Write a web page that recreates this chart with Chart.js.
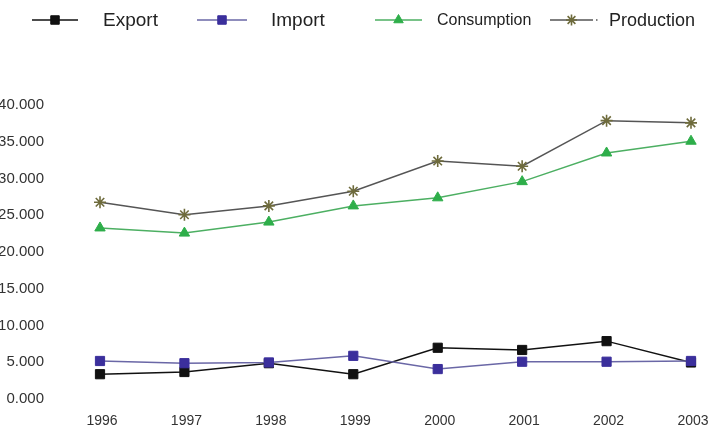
<!DOCTYPE html>
<html>
<head>
<meta charset="utf-8">
<script src="https://cdn.jsdelivr.net/npm/chart.js@4.4.1/dist/chart.umd.min.js"></script>
<style>
  html, body { margin: 0; padding: 0; background: #ffffff; overflow: hidden; }
  #c { position: absolute; left: -2px; top: 0; }
</style>
</head>
<body>
<canvas id="c" width="711" height="428" style="width:711px;height:428px"></canvas>
<script>
const years = ['1996', '1997', '1998', '1999', '2000', '2001', '2002', '2003'];
const exportVals = [3100, 3400, 4600, 3100, 6700, 6400, 7600, 4700];
const importVals = [4900, 4600, 4700, 5600, 3800, 4800, 4800, 4900];
const consumptionVals = [23000, 22300, 23800, 26000, 27100, 29300, 33200, 34800];
const productionVals = [26500, 24800, 26000, 28000, 32100, 31400, 37600, 37300];
const yTicks = [0, 5000, 10000, 15000, 20000, 25000, 30000, 35000, 40000];

const FONT = '"Liberation Sans", Arial, sans-serif';

const legendPlugin = {
  id: 'lineLegend',
  afterDraw(chart, args, opts) {
    const ctx = chart.ctx;
    const y = opts.y;
    ctx.save();
    opts.items.forEach(it => {
      const ds = chart.data.datasets[it.dataset];
      ctx.strokeStyle = ds.borderColor;
      ctx.lineWidth = 1.5;
      ctx.beginPath();
      ctx.moveTo(it.x0, y);
      ctx.lineTo(it.x1, y);
      ctx.stroke();
      if (it.dot) {
        ctx.fillStyle = ds.borderColor;
        ctx.fillRect(it.x1 + 3, y - 0.75, 1.5, 1.5);
      }
      ctx.fillStyle = ds.pointBackgroundColor;
      ctx.strokeStyle = ds.pointBorderColor;
      ctx.lineWidth = ds.pointBorderWidth || 1;
      Chart.helpers.drawPoint(ctx, {
        pointStyle: ds.pointStyle, rotation: 0, radius: it.r,
        borderWidth: ds.pointBorderWidth || 1
      }, (it.x0 + it.x1) / 2, y);
      ctx.fillStyle = '#222';
      ctx.font = it.size + 'px ' + FONT;
      ctx.textBaseline = 'middle';
      ctx.textAlign = 'left';
      ctx.fillText(ds.label, it.tx, y + 1);
    });
    ctx.restore();
  }
};

Chart.register(legendPlugin);

new Chart(document.getElementById('c'), {
  type: 'line',
  data: {
    labels: years,
    datasets: [
      { label: 'Export', data: exportVals, order: 1, borderColor: '#111111', borderWidth: 1.5,
        pointStyle: 'rect', pointRadius: 6.5, pointHoverRadius: 6.5,
        pointBackgroundColor: '#111111', pointBorderColor: '#111111', pointBorderWidth: 1, clip: false },
      { label: 'Import', data: importVals, order: 0, borderColor: '#6a67a6', borderWidth: 1.5,
        pointStyle: 'rect', pointRadius: 6.5, pointHoverRadius: 6.5,
        pointBackgroundColor: '#3b2f9c', pointBorderColor: '#3b2f9c', pointBorderWidth: 1, clip: false },
      { label: 'Consumption', data: consumptionVals, order: 2, borderColor: '#4caf62', borderWidth: 1.5,
        pointStyle: 'triangle', pointRadius: 6, pointHoverRadius: 6,
        pointBackgroundColor: '#2eae4a', pointBorderColor: '#2eae4a', pointBorderWidth: 1, clip: false },
      { label: 'Production', data: productionVals, order: 3, borderColor: '#555555', borderWidth: 1.5,
        pointStyle: 'star', pointRadius: 6, pointHoverRadius: 6,
        pointBackgroundColor: '#6e6b3c', pointBorderColor: '#6e6b3c', pointBorderWidth: 1.6, clip: false }
    ]
  },
  options: {
    responsive: false,
    devicePixelRatio: 1,
    animation: false,
    events: [],
    layout: { padding: { top: 103, right: 18, bottom: 0, left: 0 } },
    plugins: {
      legend: { display: false },
      tooltip: { enabled: false },
      lineLegend: {
        y: 20,
        items: [
          { dataset: 0, x0: 34, x1: 80, tx: 105, size: 19, r: 6 },
          { dataset: 1, x0: 199, x1: 249, tx: 273, size: 19, r: 6 },
          { dataset: 2, x0: 377, x1: 424, tx: 439, size: 16, r: 5.5 },
          { dataset: 3, x0: 552, x1: 595, tx: 611, size: 18, r: 5.5, dot: true }
        ]
      }
    },
    scales: {
      x: {
        type: 'category', offset: false,
        grid: { display: false, drawTicks: false }, border: { display: false },
        ticks: { color: '#333', padding: 16, autoSkip: false, maxRotation: 0,
          font: { family: FONT, size: 14 }, labelOffset: 2 },
        afterFit(axis) {
          axis.height = 31;
          axis.paddingLeft = 0; axis.paddingRight = 0;
          axis.paddingTop = 0; axis.paddingBottom = 0;
        }
      },
      y: {
        min: 0, max: 40000,
        grid: { display: false, drawTicks: false }, border: { display: false },
        afterBuildTicks(axis) { axis.ticks = yTicks.map(v => ({ value: v })); },
        ticks: { color: '#333', padding: 56, labelOffset: 2, font: { family: FONT, size: 15 },
          callback: v => (v / 1000).toFixed(3) },
        afterFit(axis) {
          axis.width = 102;
          axis.paddingLeft = 0; axis.paddingRight = 0;
          axis.paddingTop = 0; axis.paddingBottom = 0;
        }
      }
    }
  }
});
</script>
</body>
</html>
